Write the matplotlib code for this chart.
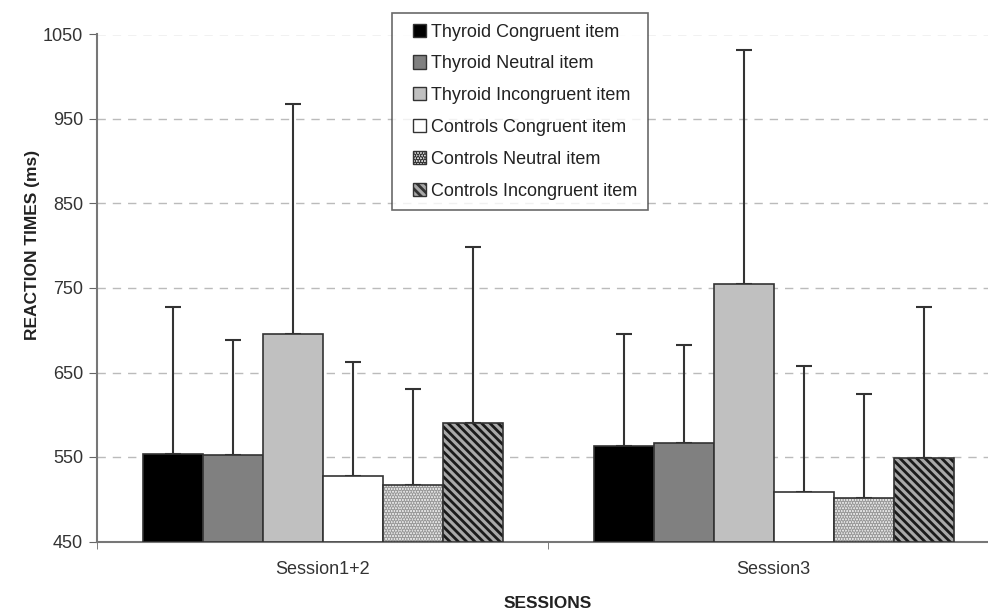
import matplotlib.pyplot as plt
import numpy as np
from matplotlib.patches import Patch, Rectangle
from matplotlib.legend_handler import HandlerPatch
from matplotlib.colors import to_rgba

plt.rcParams['font.family'] = ['Liberation Sans', 'DejaVu Sans']
plt.rcParams['hatch.linewidth'] = 2.0

sessions = ["Session1+2", "Session3"]
labels = ["Thyroid Congruent item", "Thyroid Neutral item", "Thyroid Incongruent item",
          "Controls Congruent item", "Controls Neutral item", "Controls Incongruent item"]

# mean reaction times per condition, one value per session
thyroid_congruent = [554, 563]
thyroid_neutral = [552, 567]
thyroid_incongruent = [695, 755]
controls_congruent = [527, 509]
controls_neutral = [517, 502]
controls_incongruent = [590, 549]

# upper error bars (SD)
thyroid_congruent_err = [173, 133]
thyroid_neutral_err = [137, 115]
thyroid_incongruent_err = [273, 277]
controls_congruent_err = [135, 149]
controls_neutral_err = [113, 122]
controls_incongruent_err = [208, 178]

means = [thyroid_congruent, thyroid_neutral, thyroid_incongruent,
         controls_congruent, controls_neutral, controls_incongruent]
errs = [thyroid_congruent_err, thyroid_neutral_err, thyroid_incongruent_err,
        controls_congruent_err, controls_neutral_err, controls_incongruent_err]

faces = ["black", "#808080", "#c0c0c0", "white", "#ededed", "#a8a8a8"]
hatches = [None, None, None, None, "......", "\\\\\\\\"]
hatch_colors = [None, None, None, None, "#9a9a9a", "#1a1a1a"]

fig = plt.figure(figsize=(9.88, 6.11), dpi=100)
ax = fig.add_axes([97 / 988, 69.5 / 611, 902 / 988, 507 / 611])

x = np.arange(len(sessions))
w = 60 / 451
for i in range(6):
    bars = ax.bar(x + (i - 2.5) * w, np.array(means[i]) - 450, w, bottom=450,
                  color=faces[i], edgecolor="#333333", linewidth=1.2, zorder=3,
                  yerr=[np.zeros(2), errs[i]], capsize=5.5,
                  error_kw=dict(ecolor="#333333", elinewidth=1.5, capthick=1.5, zorder=2))
    if hatches[i]:
        for b in bars:
            b.set_hatch(hatches[i])
            b._hatch_color = to_rgba(hatch_colors[i])

ax.set_xlim(-0.5, 1.5)
ax.set_ylim(450, 1050)
ax.set_yticks(np.arange(450, 1051, 100))
ax.set_xticks(x)
ax.set_xticklabels(sessions, fontsize=13, color="#333333")
ax.set_xticks([-0.5, 0.5, 1.5], minor=True)
ax.tick_params(axis="x", which="major", length=0, pad=14)
ax.tick_params(axis="x", which="minor", length=5, color="#666666")
ax.tick_params(axis="y", length=6, color="#666666", labelsize=13, labelcolor="#333333", pad=4)

for yv in range(550, 1051, 100):
    ax.axhline(yv, color="#bbbbbb", linestyle=(0, (6, 5)), linewidth=1, zorder=0)

for s in ["top", "right"]:
    ax.spines[s].set_visible(False)
for s in ["left", "bottom"]:
    ax.spines[s].set_color("#777777")
    ax.spines[s].set_linewidth(1.5)

ax.set_xlabel("SESSIONS", fontsize=12.5, fontweight="bold", color="#222222", labelpad=13)
fig.text(33 / 988, 1 - 245 / 611, "REACTION TIMES (ms)", rotation=90, ha="center", va="center",
         fontsize=12.5, fontweight="bold", color="#222222")


def square_patch(legend, orig_handle, xdescent, ydescent, width, height, fontsize):
    # small square pushed to the right end of the handle box
    side = height
    return Rectangle((width - side - xdescent, -ydescent), side, side)


handles = []
for i in range(6):
    p = Patch(facecolor=faces[i], edgecolor="#333333", hatch=hatches[i], linewidth=1)
    handles.append(p)
leg = fig.legend(handles, labels, loc="upper left", bbox_to_anchor=(392 / 988, 1 - 12.7 / 611),
                 fontsize=13, frameon=True, fancybox=False, handlelength=1.3, handleheight=0.75,
                 handletextpad=0.25, labelspacing=0.82, borderpad=0.6, borderaxespad=0,
                 handler_map={Patch: HandlerPatch(patch_func=square_patch)})
leg.get_frame().set_edgecolor("#444444")
leg.get_frame().set_linewidth(1.2)
for t in leg.get_texts():
    t.set_color("#222222")

fig.savefig("out.png", dpi=100)
